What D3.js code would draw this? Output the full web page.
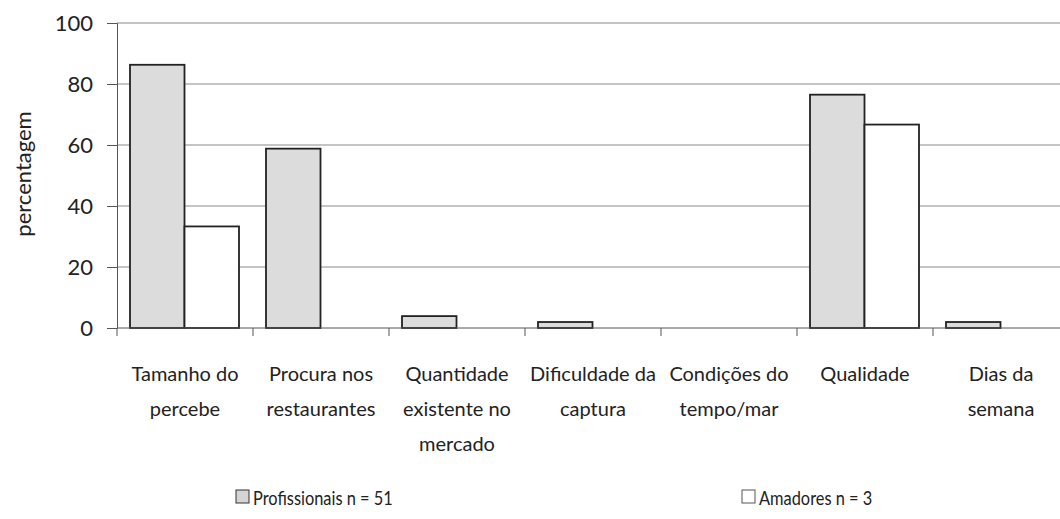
<!DOCTYPE html>
<html>
<head>
<meta charset="utf-8">
<script src="https://cdn.jsdelivr.net/npm/d3@7"></script>
<style>
  body { margin: 0; background: #fff; }
  svg text { font-family: Lato, "Open Sans", sans-serif; fill: #222; }
</style>
</head>
<body>
<div id="chart"></div>
<script>
// categories (label lines) and values in percent
const categories = [
  ["Tamanho do", "percebe"],
  ["Procura nos", "restaurantes"],
  ["Quantidade", "existente no", "mercado"],
  ["Dificuldade da", "captura"],
  ["Condições do", "tempo/mar"],
  ["Qualidade"],
  ["Dias da", "semana"]
];
const profissionais = [86.3, 58.8, 3.9, 1.96, 0, 76.5, 1.96];
const amadores = [33.3, 0, 0, 0, 0, 66.7, 0];
const yTicks = [0, 20, 40, 60, 80, 100];
const seriesNames = ["Profissionais n = 51", "Amadores n = 3"];

const width = 1060, height = 519;
const plotLeft = 117, plotRight = 1069, plotTop = 23, plotBottom = 328;

const svg = d3.select("#chart").append("svg")
  .attr("width", width)
  .attr("height", height);

const x = d3.scaleBand().domain(d3.range(categories.length)).range([plotLeft, plotRight]);
const inner = d3.scaleBand().domain([0, 1]).range([13, x.bandwidth() - 14]);
const y = d3.scaleLinear().domain([0, 100]).range([plotBottom, plotTop]);

// gridlines
svg.append("g")
  .selectAll("line")
  .data(yTicks.filter(d => d > 0))
  .enter().append("line")
  .attr("x1", plotLeft).attr("x2", plotRight)
  .attr("y1", d => y(d)).attr("y2", d => y(d))
  .attr("stroke", "#8a8a8a")
  .attr("stroke-width", 1);

// y axis
const yAxis = svg.append("g")
  .attr("transform", "translate(" + plotLeft + ",0)")
  .call(d3.axisLeft(y).tickValues(yTicks).tickSize(10).tickPadding(14));
yAxis.select(".domain").attr("stroke", "#555");
yAxis.selectAll(".tick line").attr("stroke", "#555");
yAxis.selectAll(".tick text").style("font-size", "22px").attr("fill", "#222");

svg.append("text")
  .attr("transform", "rotate(-90)")
  .attr("x", -174)
  .attr("y", 31)
  .attr("text-anchor", "middle")
  .style("font-size", "22px")
  .text("percentagem");

// bars
const data = categories.map((c, i) => ({ i, values: [profissionais[i], amadores[i]] }));
const groups = svg.selectAll(".grp")
  .data(data)
  .enter().append("g")
  .attr("transform", d => "translate(" + x(d.i) + ",0)");

groups.selectAll("rect")
  .data(d => d.values.map((v, s) => ({ v, s })).filter(e => e.v > 0))
  .enter().append("rect")
  .attr("x", d => inner(d.s))
  .attr("width", inner.bandwidth())
  .attr("y", d => y(d.v))
  .attr("height", d => plotBottom - y(d.v))
  .attr("fill", d => d.s === 0 ? "#dcdcdc" : "#ffffff")
  .attr("stroke", "#222")
  .attr("stroke-width", 1.8);

// x axis
const xAxis = svg.append("g")
  .attr("transform", "translate(0," + plotBottom + ")");
xAxis.append("line")
  .attr("x1", plotLeft).attr("x2", plotRight)
  .attr("stroke", "#555");
xAxis.selectAll(".xt")
  .data(d3.range(categories.length + 1))
  .enter().append("line")
  .attr("x1", d => plotLeft + d * x.step()).attr("x2", d => plotLeft + d * x.step())
  .attr("y1", 0).attr("y2", 8)
  .attr("stroke", "#555");

const labels = svg.selectAll(".xl")
  .data(categories)
  .enter().append("text")
  .attr("text-anchor", "middle")
  .style("font-size", "20px")
  .attr("transform", (d, i) => "translate(" + (x(i) + x.bandwidth() / 2) + ",381)");
labels.selectAll("tspan")
  .data(d => d)
  .enter().append("tspan")
  .attr("x", 0)
  .attr("y", (d, k) => k * 35)
  .text(d => d);

// legend
const legend = svg.selectAll(".lg")
  .data(seriesNames)
  .enter().append("g")
  .attr("transform", (d, i) => "translate(" + [236, 742][i] + ",490)");
legend.append("rect")
  .attr("width", 13).attr("height", 13)
  .attr("fill", (d, i) => i === 0 ? "#d4d4d4" : "#fff")
  .attr("stroke", (d, i) => i === 0 ? "#333" : "#555");
legend.append("text")
  .attr("transform", "translate(17,15) scale(0.82,1)")
  .style("font-size", "20px")
  .text(d => d);
</script>
</body>
</html>
